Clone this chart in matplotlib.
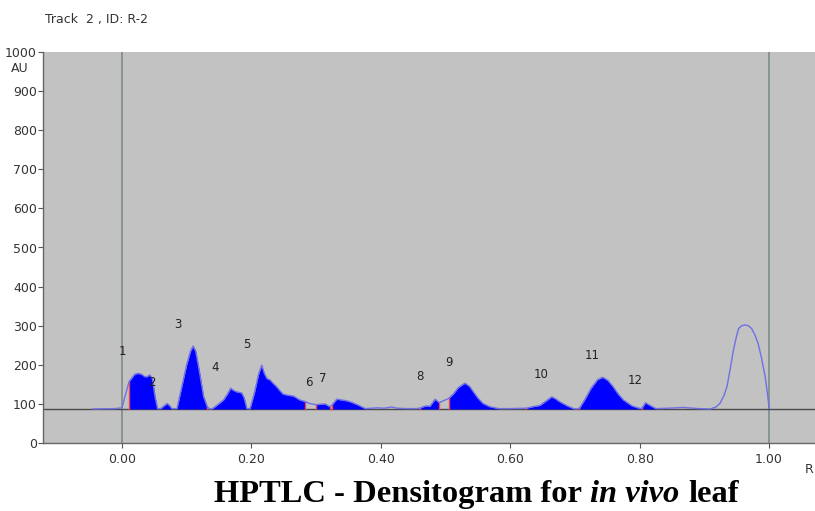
import numpy as np
import matplotlib
matplotlib.use("Agg")
import matplotlib.pyplot as plt

# densitogram trace (Rf, AU)
rf = [-0.045, -0.01, 0.0, 0.005, 0.011, 0.016, 0.020, 0.025, 0.030, 0.035, 0.038, 0.043, 0.047, 0.051, 0.055,
      0.060, 0.065, 0.070, 0.074, 0.077, 0.085, 0.092, 0.100, 0.106, 0.110, 0.114, 0.120, 0.126, 0.132, 0.136,
      0.140, 0.148, 0.157, 0.163, 0.168, 0.172, 0.177, 0.185, 0.189, 0.193, 0.198, 0.205, 0.211, 0.216, 0.220,
      0.224, 0.229, 0.234, 0.239, 0.244, 0.249, 0.257, 0.265, 0.275, 0.283, 0.290, 0.300, 0.307, 0.314, 0.321,
      0.324, 0.332, 0.340, 0.347, 0.355, 0.365, 0.376, 0.385, 0.395, 0.405, 0.417, 0.425, 0.440, 0.455, 0.460,
      0.466, 0.471, 0.476, 0.484, 0.489, 0.490, 0.497, 0.505, 0.512, 0.520, 0.530, 0.537, 0.543, 0.550, 0.558,
      0.568, 0.582, 0.600, 0.625, 0.635, 0.646, 0.656, 0.664, 0.670, 0.677, 0.688, 0.698, 0.702, 0.707, 0.715,
      0.725, 0.735, 0.743, 0.751, 0.759, 0.767, 0.775, 0.788, 0.801, 0.804, 0.809, 0.815, 0.825, 0.845, 0.867,
      0.890, 0.909, 0.918, 0.924, 0.930, 0.935, 0.940, 0.945, 0.950, 0.953, 0.958, 0.963, 0.968, 0.973, 0.978,
      0.983, 0.988, 0.994, 0.998, 1.000]
au = [87, 88, 90, 120, 157, 168, 176, 178, 176, 170, 169, 174, 165, 120, 88,
      88, 95, 101, 95, 88, 88, 140, 200, 235, 248, 235, 180, 120, 92, 87,
      88, 98, 110, 125, 140, 135, 131, 128, 115, 88, 88, 130, 175, 199, 178,
      165, 161, 152, 144, 134, 125, 122, 120, 110, 106, 101, 98, 99, 100, 93,
      96, 112, 110, 108, 104, 97, 88, 89, 90, 89, 92, 89, 88, 88, 89,
      93, 95, 94, 112, 105, 103, 108, 114, 125, 142, 153, 145, 131, 115, 101,
      93, 88, 88, 89, 93, 96, 108, 118, 113, 105, 95, 88, 87, 89, 110,
      140, 162, 168, 160, 144, 125, 110, 95, 88, 90, 103, 97, 88, 89, 91,
      88, 87, 92, 101, 120, 144, 190, 238, 275, 293, 300, 302, 300, 293, 277,
      255, 220, 170, 120, 89]
baseline_au = 87

# integrated peak windows (start, end)
peak_start = [0.011, 0.060, 0.085, 0.140, 0.198, 0.300, 0.324, 0.460, 0.505, 0.625, 0.707, 0.804]
peak_end = [0.055, 0.077, 0.132, 0.193, 0.283, 0.321, 0.376, 0.490, 0.582, 0.698, 0.801, 0.825]

# peak numbers and where they were printed
peak_labels = ["1", "2", "3", "4", "5", "6", "7", "8", "9", "10", "11", "12"]
label_rf = [0.0, 0.046, 0.087, 0.144, 0.193, 0.289, 0.311, 0.461, 0.505, 0.648, 0.726, 0.793]
label_au = [235, 156, 302, 192, 251, 156, 166, 169, 207, 174, 225, 159]

x_ticks = [0.0, 0.2, 0.4, 0.6, 0.8, 1.0]
y_ticks = list(range(0, 1001, 100))

rf = np.array(rf)
au = np.array(au, dtype=float)

plt.rcParams['font.family'] = ['DejaVu Sans']

fig = plt.figure(figsize=(8.15, 5.11), dpi=100)
ax = fig.add_axes([43 / 815, 68 / 511, 772 / 815, 391 / 511])
ax.set_facecolor('#c2c2c2')

ax.set_xlim(-0.122, 1.071)
ax.set_ylim(0, 1000)

# reference lines: start / front and baseline
ax.axvline(0.0, color='#80908e', lw=1.3, zorder=1)
ax.axvline(1.0, color='#80908e', lw=1.3, zorder=1)
ax.axhline(baseline_au, color='#4a4a4a', lw=1.0, zorder=2)

# filled peaks
for s, e in zip(peak_start, peak_end):
    m = (rf >= s - 1e-9) & (rf <= e + 1e-9)
    ax.fill_between(rf[m], baseline_au, au[m], color='#0000ff', lw=0, zorder=3)
    for b in (s, e):
        i = int(np.argmin(np.abs(rf - b)))
        ax.plot([rf[i], rf[i]], [baseline_au, au[i]], color='#e8454f', lw=1.0, zorder=4)

ax.plot(rf, au, color='#6f6fe6', lw=1.0, zorder=5)

for lab, x, y in zip(peak_labels, label_rf, label_au):
    ax.text(x, y, lab, ha='center', va='center', fontsize=8.5, color='#222222', zorder=6)

ax.set_xticks(x_ticks)
ax.set_xticklabels([f"{v:.2f}" for v in x_ticks])
ax.set_yticks(y_ticks)
ax.tick_params(axis='both', labelsize=9, colors='#555555', labelcolor='#333333', length=3.5, width=0.8)
ax.tick_params(axis='x', pad=3.5)
ax.tick_params(axis='y', pad=1)
for side in ('top', 'right'):
    ax.spines[side].set_visible(False)
for side in ('left', 'bottom'):
    ax.spines[side].set_color('#666666')
    ax.spines[side].set_linewidth(1.0)

fig.text(20 / 815, 1 - 68 / 511, "AU", ha='center', va='center', fontsize=9, color='#333333')
fig.text(805 / 815, 1 - 469 / 511, "R", ha='left', va='center', fontsize=9, color='#333333')
fig.text(45 / 815, 1 - 19 / 511, "Track  2 , ID: R-2", ha='left', va='center', fontsize=9, color='#333333')

# caption: bold serif with italic "in vivo"
cap = dict(fontsize=23.4, fontweight='bold', family='Liberation Serif', color='black')
t1 = fig.text(214 / 815, 1 - 502 / 511, "HPTLC - Densitogram for", ha='left', va='baseline', **cap)
t2 = ax.annotate("in vivo", xy=(1, 0), xycoords=t1, xytext=(6, 0), textcoords='offset points',
                 ha='left', va='bottom', style='italic', annotation_clip=False, **cap)
ax.annotate("leaf", xy=(1, 0), xycoords=t2, xytext=(6, 0), textcoords='offset points',
            ha='left', va='bottom', annotation_clip=False, **cap)

fig.savefig("out.png", dpi=100)
